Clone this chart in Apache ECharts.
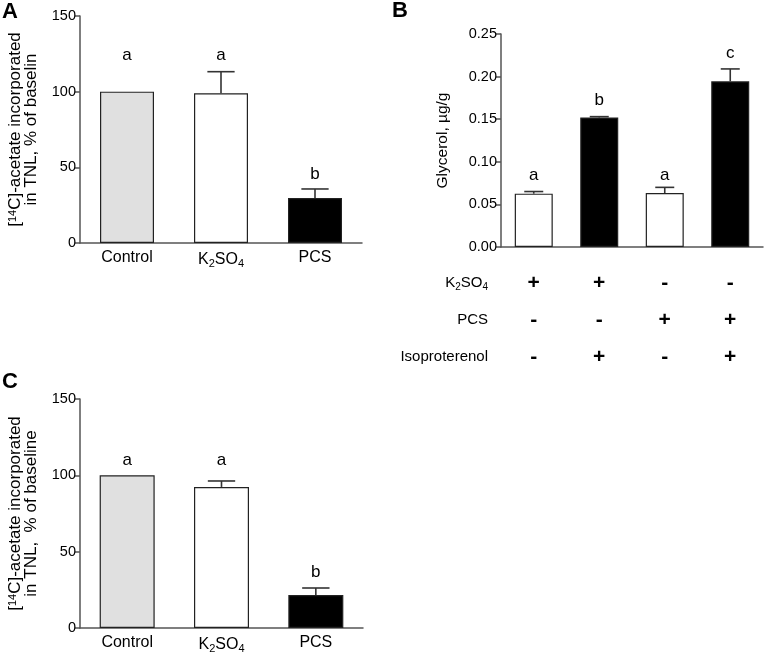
<!DOCTYPE html>
<html>
<head>
<meta charset="utf-8">
<script src="https://cdn.jsdelivr.net/npm/echarts@6/dist/echarts.min.js"></script>
<style>html,body{margin:0;padding:0;background:#fff}#c{width:768px;height:656px}</style>
</head>
<body>
<div id="c"></div>
<script>
// ---- data ----
const catsAC = ['Control', 'K2SO4', 'PCS'];
const valsA = [100, 99, 29.7];
const errA = [0, 14.2, 6.0];
const lettersA = ['a', 'a', 'b'];
const letterPosA = [124, 124, 45.6];

const catsB = ['K2SO4', 'K2SO4+Iso', 'PCS', 'PCS+Iso'];
const valsB = [0.0626, 0.152, 0.0634, 0.1945];
const errB = [0.0025, 0.001, 0.0066, 0.0145];
const lettersB = ['a', 'b', 'a', 'c'];
const letterPosB = [0.0845, 0.1725, 0.0845, 0.2277];
const rowK2SO4 = ['+', '+', '-', '-'];
const rowPCS = ['-', '-', '+', '+'];
const rowIso = ['-', '+', '-', '+'];

const valsC = [100, 92.4, 21.6];
const errC = [0, 3.9, 4.6];
const lettersC = ['a', 'a', 'b'];
const letterPosC = [110, 110, 36.7];

const ticksAC = [0, 50, 100, 150];
const ticksB = [0, 0.05, 0.10, 0.15, 0.20, 0.25];

// ---- styles ----
const FONT = 'Liberation Sans, Arial, Helvetica, sans-serif';
const fillAC = ['#e0e0e0', '#ffffff', '#000000'];
const fillB = ['#ffffff', '#000000', '#ffffff', '#000000'];
const AX = '#555555';

const chart = echarts.init(document.getElementById('c'), null, {renderer: 'canvas'});

function catLabel(v) {
  if (v === 'K2SO4') return '{n|K}{s|2}{n|SO}{s|4}';
  return '{n|' + v + '}';
}
const catRich = {
  n: {fontSize: 16, fontFamily: FONT, color: '#000'},
  s: {fontSize: 11, fontFamily: FONT, color: '#000', padding: [8, 0, 0, 0]}
};
const rowRich = {
  n: {fontSize: 15, fontFamily: FONT, color: '#000'},
  s: {fontSize: 10, fontFamily: FONT, color: '#000', padding: [8, 0, 0, 0]}
};

function yAxisDef(gi, max, interval, name, gap, fsize, fmt) {
  return {
    type: 'value', gridIndex: gi, min: 0, max: max, interval: interval,
    axisLine: {show: true, lineStyle: {color: AX, width: 1.5}},
    axisTick: {show: true, length: 5, lineStyle: {color: AX, width: 1.5}},
    splitLine: {show: false},
    axisLabel: {color: '#000', fontSize: 14.5, fontFamily: FONT, margin: 4, formatter: fmt},
    name: name, nameLocation: 'middle', nameGap: gap,
    nameTextStyle: {
      color: '#000', fontSize: fsize, fontFamily: FONT, lineHeight: 16,
      rich: {
        n: {fontSize: fsize, fontFamily: FONT, color: '#000', lineHeight: 16},
        sup: {fontSize: 11, fontFamily: FONT, color: '#000', verticalAlign: 'top', lineHeight: 16, padding: [0, 0, 4, 0]}
      }
    }
  };
}

function barSeries(xi, yi, vals, fills, bw) {
  return {
    type: 'bar', xAxisIndex: xi, yAxisIndex: yi, barWidth: bw,
    data: vals.map((v, i) => ({value: v, itemStyle: {color: fills[i]}})),
    itemStyle: {borderColor: '#222', borderWidth: 1.2},
    z: 2, silent: true, animation: false
  };
}

function errSeries(xi, yi, vals, errs) {
  return {
    type: 'custom', xAxisIndex: xi, yAxisIndex: yi, z: 3, silent: true, animation: false,
    data: vals.map((v, i) => [i, v, errs[i]]),
    renderItem: function (params, api) {
      const x = api.value(0), v = api.value(1), e = api.value(2);
      if (!e) return null;
      const p0 = api.coord([x, v]);
      const p1 = api.coord([x, v + e]);
      const half = api.size([1, 0])[0] * 0.145;
      const st = {stroke: '#333', lineWidth: 1.6};
      return {
        type: 'group', children: [
          {type: 'line', shape: {x1: p0[0], y1: p0[1], x2: p1[0], y2: p1[1]}, style: st},
          {type: 'line', shape: {x1: p1[0] - half, y1: p1[1], x2: p1[0] + half, y2: p1[1]}, style: st}
        ]
      };
    }
  };
}

function letterSeries(xi, yi, pos, letters) {
  return {
    type: 'custom', xAxisIndex: xi, yAxisIndex: yi, z: 4, silent: true, animation: false,
    data: pos.map((p, i) => [i, p]),
    renderItem: function (params, api) {
      const c = api.coord([api.value(0), api.value(1)]);
      return {
        type: 'text', x: c[0], y: c[1],
        style: {text: letters[params.dataIndex], fill: '#000', fontSize: 17, fontFamily: FONT,
                align: 'center', verticalAlign: 'middle'}
      };
    }
  };
}

function rowAxis(data, offset, name) {
  return {
    type: 'category', gridIndex: 1, data: data, position: 'bottom', offset: offset,
    axisLine: {show: false}, axisTick: {show: false},
    axisLabel: {show: true, interval: 0, margin: 0, verticalAlign: 'middle',
                fontSize: 21, fontWeight: 'bold', fontFamily: FONT, color: '#000'},
    name: name, nameLocation: 'start', nameGap: 13,
    nameTextStyle: {fontSize: 15, fontFamily: FONT, color: '#000', align: 'right', verticalAlign: 'middle',
                    rich: rowRich}
  };
}

const nameAC1 = '{sup|14}';
const option = {
  animation: false,
  backgroundColor: '#ffffff',
  textStyle: {fontFamily: FONT},
  grid: [
    {left: 80, top: 16, width: 282, height: 227, containLabel: false, outerBoundsMode: 'none'},
    {left: 501, top: 34, width: 262, height: 213, containLabel: false, outerBoundsMode: 'none'},
    {left: 80, top: 399, width: 283, height: 229, containLabel: false, outerBoundsMode: 'none'}
  ],
  xAxis: [
    {type: 'category', gridIndex: 0, data: catsAC,
     axisLine: {lineStyle: {color: AX, width: 1.5}}, axisTick: {show: false},
     axisLabel: {interval: 0, margin: 7, formatter: catLabel, rich: catRich}},
    {type: 'category', gridIndex: 1, data: catsB,
     axisLine: {lineStyle: {color: AX, width: 1.5}}, axisTick: {show: false},
     axisLabel: {show: false}},
    {type: 'category', gridIndex: 2, data: catsAC,
     axisLine: {lineStyle: {color: AX, width: 1.5}}, axisTick: {show: false},
     axisLabel: {interval: 0, margin: 7, formatter: catLabel, rich: catRich}},
    rowAxis(rowK2SO4, 36, '{n|K}{s|2}{n|SO}{s|4}'),
    rowAxis(rowPCS, 73, 'PCS'),
    rowAxis(rowIso, 110, 'Isoproterenol')
  ],
  yAxis: [
    yAxisDef(0, ticksAC[ticksAC.length - 1], ticksAC[1] - ticksAC[0],
      '{n|[}' + nameAC1 + '{n|C]-acetate incorporated}\n{n|in TNL, % of baselin}', 41, 17),
    yAxisDef(1, ticksB[ticksB.length - 1], ticksB[1] - ticksB[0],
      'Glycerol, µg/g', 50, 15.5, v => v.toFixed(2)),
    yAxisDef(2, ticksAC[ticksAC.length - 1], ticksAC[1] - ticksAC[0],
      '{n|[}' + nameAC1 + '{n|C]-acetate incorporated}\n{n|in TNL,  % of baseline}', 41, 17)
  ],
  series: [
    barSeries(0, 0, valsA, fillAC, 54),
    errSeries(0, 0, valsA, errA),
    letterSeries(0, 0, letterPosA, lettersA),
    barSeries(1, 1, valsB, fillB, 38),
    errSeries(1, 1, valsB, errB),
    letterSeries(1, 1, letterPosB, lettersB),
    barSeries(2, 2, valsC, fillAC, 55),
    errSeries(2, 2, valsC, errC),
    letterSeries(2, 2, letterPosC, lettersC)
  ],
  graphic: [
    {type: 'text', left: 2, top: 1, style: {text: 'A', fontSize: 22, fontWeight: 'bold', fontFamily: FONT, fill: '#000'}},
    {type: 'text', left: 392, top: 0, style: {text: 'B', fontSize: 22, fontWeight: 'bold', fontFamily: FONT, fill: '#000'}},
    {type: 'text', left: 2, top: 371, style: {text: 'C', fontSize: 22, fontWeight: 'bold', fontFamily: FONT, fill: '#000'}}
  ]
};
chart.setOption(option);
</script>
</body>
</html>
